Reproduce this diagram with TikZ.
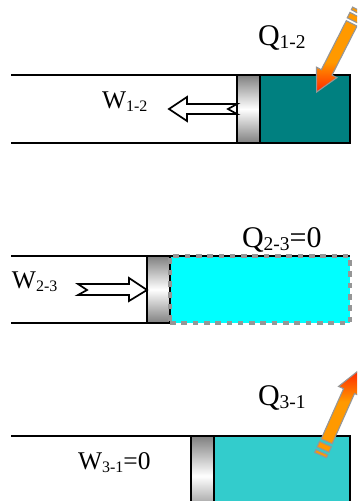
\documentclass[tikz,border=0pt]{standalone}
\usepackage{fontspec}
\setmainfont{Liberation Serif}
\usepackage{tikz}
\definecolor{gasTeal}{RGB}{0,128,128}
\definecolor{gasCyan}{RGB}{0,255,255}
\definecolor{gasAqua}{RGB}{51,204,204}
\definecolor{heatOrange}{RGB}{255,153,0}
\definecolor{heatRed}{RGB}{255,51,0}
\definecolor{edgeGray}{RGB}{150,150,150}
\pgfdeclareverticalshading{heatdown}{100bp}{color(0bp)=(heatRed); color(27bp)=(heatRed); color(46bp)=(heatOrange); color(100bp)=(heatOrange)}
\pgfdeclareverticalshading{heatup}{100bp}{color(0bp)=(heatOrange); color(54bp)=(heatOrange); color(73bp)=(heatRed); color(100bp)=(heatRed)}
\newcommand{\biglabel}[3]{{\fontsize{30}{30}\selectfont #1}\raisebox{-3pt}{\fontsize{19.5}{19.5}\selectfont #2}{\fontsize{30}{30}\selectfont #3}}
\newcommand{\worklabel}[3]{{\fontsize{25.5}{25.5}\selectfont #1}\raisebox{-3pt}{\fontsize{16}{16}\selectfont #2}{\fontsize{25.5}{25.5}\selectfont #3}}
\newcommand{\heatarrow}[3]{
  \begin{scope}[shift={#1}, rotate=#2]
    \draw[heatedge, shading=#3] (0,0) -- (-22,-11.5) -- (-22,-6) -- (-77,-6) -- (-77,6) -- (-22,6) -- (-22,11.5) -- cycle;
    \draw[heatedge, fill=heatOrange] (-80,-6.5) rectangle (-86,6.5);
    \draw[heatedge, fill=heatOrange] (-89,-6.5) rectangle (-92,6.5);
  \end{scope}
}
\tikzset{
  wall/.style={black, line width=1.7pt},
  gas/.style={draw=black, line width=1.7pt, rectangle, anchor=north west, inner sep=0pt, outer sep=0pt, minimum height=68pt},
  piston/.style={draw=black, line width=1.7pt, rectangle, anchor=north west, inner sep=0pt, outer sep=0pt, minimum width=23pt, minimum height=68pt, top color=gray, bottom color=gray, middle color=white},
  workarrow/.style={draw=black, fill=white, line width=1.7pt, miter limit=10},
  heatedge/.style={draw=edgeGray, line width=1.1pt},
  tag/.style={anchor=base west, inner sep=0pt, outer sep=0pt}
}
\begin{document}
\begin{tikzpicture}[x=1pt, y=-1pt]
  \clip (0,0) rectangle (357,501);

  \coordinate (topA) at (11,75);
  \coordinate (botA) at (11,143);
  \node[gas, fill=gasTeal, minimum width=90pt] (gasA) at (260,75) {};
  \node[piston] (pistonA) at (237,75) {};
  \draw[wall] (topA) -- (pistonA.north west);
  \draw[wall] (botA) -- (pistonA.south west);
  \draw[workarrow] (237,104) -- (187,104) -- (187,97) -- (169,109) -- (187,121) -- (187,114) -- (237,114) -- (228,109) -- cycle;
  \heatarrow{(316.7,92)}{243}{heatdown}
  \node[tag] (labelQa) at (258,45) {\biglabel{Q}{1-2}{}};
  \node[tag] (labelWa) at (102,108) {\worklabel{W}{1-2}{}};

  \coordinate (topB) at (11,256);
  \coordinate (botB) at (11,323);
  \coordinate (endB) at (350,256);
  \node[piston, minimum height=67pt] (pistonB) at (147,256) {};
  \fill[gasCyan] (170,256) rectangle (350,323);
  \draw[wall] (topB) -- (endB);
  \draw[wall] (botB) -- (pistonB.south west);
  \draw[wall] (pistonB.north west) rectangle (pistonB.south east);
  \draw[edgeGray, line width=4.5pt, dash pattern=on 5.6pt off 5.7pt] (170,323) -- (350,323) -- (350,256) -- (170,256) -- cycle;
  \draw[workarrow] (78,284) -- (129,284) -- (129,278) -- (147,290) -- (129,301) -- (129,295) -- (78,295) -- (87,290) -- cycle;
  \node[tag] (labelQb) at (242,247) {\biglabel{Q}{2-3}{=0}};
  \node[tag] (labelWb) at (12,288) {\worklabel{W}{2-3}{}};

  \coordinate (topC) at (11,436);
  \node[gas, fill=gasAqua, minimum width=136pt, minimum height=80pt] (gasC) at (214,436) {};
  \node[piston, minimum height=80pt] (pistonC) at (191,436) {};
  \draw[wall] (topC) -- (pistonC.north west);
  \heatarrow{(358,371)}{66}{heatup}
  \node[tag] (labelQc) at (258,405) {\biglabel{Q}{3-1}{}};
  \node[tag] (labelWc) at (78,469) {\worklabel{W}{3-1}{=0}};
\end{tikzpicture}
\end{document}
